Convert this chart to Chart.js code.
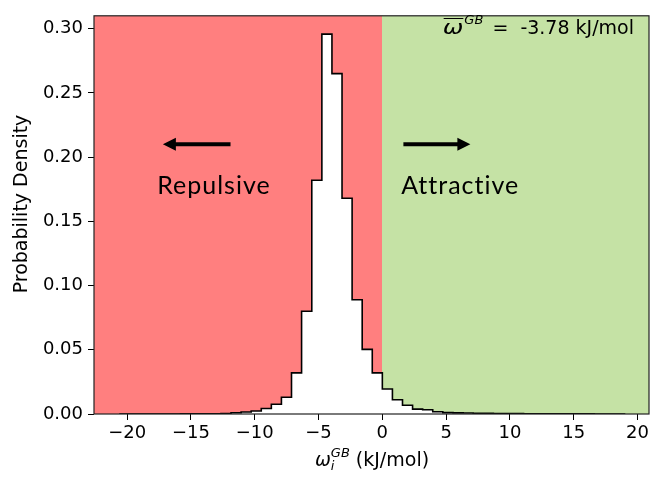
<!DOCTYPE html>
<html lang="en">
<head>
  <meta charset="UTF-8" />
  <title>GB interaction histogram</title>
  <script src="https://cdn.jsdelivr.net/npm/chart.js"></script>
  <style>
    html, body { margin: 0; padding: 0; background: #fff; }
    #wrap { width: 655px; height: 480px; }
  </style>
</head>
<body>
  <div id="wrap"><canvas id="histChart" width="655" height="480"></canvas></div>

  <script>
    // histogram bin edges (kJ/mol) and density per bin
    const binEdges = [
      -20.56, -19.77, -18.98, -18.19, -17.40, -16.61, -15.81, -15.02, -14.23, -13.44,
      -12.65, -11.86, -11.07, -10.28, -9.49, -8.70, -7.91, -7.12, -6.33, -5.53,
      -4.74, -3.95, -3.16, -2.37, -1.58, -0.79, 0.00, 0.79, 1.58, 2.37,
      3.16, 3.95, 4.74, 5.54, 6.33, 7.12, 7.91, 8.70, 9.49, 10.28,
      11.07, 11.86, 12.65, 13.44, 14.24, 15.03, 15.82, 16.61, 17.40, 18.19, 18.98
    ];
    const density = [
      0.00002, 0.00001, 0.00002, 0.00003, 0.00003, 0.00005, 0.00006, 0.00008, 0.0001, 0.00015,
      0.0003, 0.001, 0.0015, 0.0023, 0.0043, 0.0076, 0.0130, 0.032, 0.080, 0.182,
      0.2957, 0.265, 0.168, 0.089, 0.0503, 0.032, 0.0195, 0.0111, 0.0068, 0.0038,
      0.0033, 0.0017, 0.0011, 0.0009, 0.0008, 0.0006, 0.0005, 0.0004, 0.0003, 0.0003,
      0.0002, 0.0002, 0.00015, 0.00012, 0.0001, 0.00008, 0.00006, 0.00005, 0.00003, 0.00002
    ];
    const xTicks = [-20, -15, -10, -5, 0, 5, 10, 15, 20];
    const yTicks = [0, 0.05, 0.10, 0.15, 0.20, 0.25, 0.30];
    const meanOmega = -3.78;

    // step outline points built from the bins
    const stepPoints = [{ x: binEdges[0], y: 0 }];
    density.forEach((d, i) => stepPoints.push({ x: binEdges[i], y: d }));
    stepPoints.push({ x: binEdges[binEdges.length - 1], y: 0 });

    const FONT = "'DejaVu Sans'";
    const redBg = '#FF7F7F';
    const greenBg = '#C5E2A5';

    const regionPlugin = {
      id: 'regions',
      beforeDatasetsDraw(chart) {
        const { ctx, chartArea: a, scales: { x } } = chart;
        const x0 = Math.round(x.getPixelForValue(0));
        ctx.save();
        ctx.fillStyle = redBg;
        ctx.fillRect(a.left, a.top, x0 - a.left + 1, a.bottom - a.top);
        ctx.fillStyle = greenBg;
        ctx.fillRect(x0, a.top, a.right - x0, a.bottom - a.top);
        ctx.restore();
      }
    };

    function arrow(ctx, x1, y1, x2, y2) {
      const dir = Math.sign(x2 - x1);
      const head = 13;
      ctx.beginPath();
      ctx.lineWidth = 4;
      ctx.strokeStyle = '#000';
      ctx.moveTo(x1, y1);
      ctx.lineTo(x2 - dir * head * 0.8, y2);
      ctx.stroke();
      ctx.beginPath();
      ctx.fillStyle = '#000';
      ctx.moveTo(x2, y2);
      ctx.lineTo(x2 - dir * head, y2 - 6.5);
      ctx.lineTo(x2 - dir * head, y2 + 6.5);
      ctx.closePath();
      ctx.fill();
    }

    const annotPlugin = {
      id: 'annot',
      afterDraw(chart) {
        const { ctx, chartArea: a, scales: { x, y } } = chart;
        ctx.save();

        // frame
        ctx.strokeStyle = '#222';
        ctx.lineWidth = 1.2;
        ctx.strokeRect(a.left, a.top, a.right - a.left, a.bottom - a.top);

        // arrows + region labels
        const ay = y.getPixelForValue(0.21);
        arrow(ctx, x.getPixelForValue(-11.9), ay, x.getPixelForValue(-17.2), ay);
        arrow(ctx, x.getPixelForValue(1.65), ay, x.getPixelForValue(6.9), ay);
        ctx.save();
        ctx.font = "25px Lato";
        ctx.letterSpacing = '1px';
        ctx.fillStyle = '#000';
        ctx.textAlign = 'center';
        ctx.textBaseline = 'alphabetic';
        const ly = y.getPixelForValue(0.171);
        ctx.fillText('Repulsive', x.getPixelForValue(-13.2), ly);
        ctx.fillText('Attractive', x.getPixelForValue(6.1), ly);
        ctx.restore();

        // mean annotation, top right (axes-fraction placement)
        ctx.fillStyle = '#000';
        ctx.textAlign = 'left';
        ctx.textBaseline = 'alphabetic';
        const tb = 34;
        const omScale = 1.3;
        const omF = `italic 19px ${FONT}`, supF = `italic 13px ${FONT}`, mainF = `19px ${FONT}`;
        const rest = ` =  ${meanOmega.toFixed(2)} kJ/mol`;
        ctx.font = omF; const wOm = ctx.measureText('ω').width * omScale;
        ctx.font = supF; const wGB = ctx.measureText('GB').width;
        ctx.font = mainF; const wRest = ctx.measureText(rest).width;
        const tx = 634 - (wOm + 1 + wGB + 3 + wRest);
        ctx.save();
        ctx.translate(tx, tb);
        ctx.scale(omScale, 1);
        ctx.font = omF; ctx.fillText('ω', 0, 0);
        ctx.restore();
        ctx.lineWidth = 1;
        ctx.strokeStyle = '#000';
        ctx.beginPath(); ctx.moveTo(tx + 1, 18.5); ctx.lineTo(tx + wOm, 18.5); ctx.stroke();
        ctx.font = supF; ctx.fillText('GB', tx + wOm + 1, tb - 10);
        ctx.font = mainF; ctx.fillText(rest, tx + wOm + 1 + wGB + 3, tb);

        // x axis title: omega_i^GB (kJ/mol)
        const xf = `italic 19px ${FONT}`, sf = `italic 13px ${FONT}`, rf = `19px ${FONT}`;
        ctx.font = xf; const w1 = ctx.measureText('ω').width;
        ctx.font = sf; const w2 = Math.max(ctx.measureText('GB').width, ctx.measureText('i').width);
        ctx.font = rf; const w3 = ctx.measureText(' (kJ/mol)').width;
        const sx = 372 - (w1 + w2 + w3) / 2;
        const sb = 466;
        ctx.font = xf; ctx.fillText('ω', sx, sb);
        ctx.font = sf;
        ctx.fillText('GB', sx + w1, sb - 9);
        ctx.fillText('i', sx + w1, sb + 4);
        ctx.font = rf; ctx.fillText(' (kJ/mol)', sx + w1 + w2, sb);

        // y axis title
        ctx.translate(22, 204);
        ctx.rotate(-Math.PI / 2);
        ctx.textAlign = 'center';
        ctx.textBaseline = 'middle';
        ctx.font = `19px ${FONT}`;
        ctx.fillText('Probability Density', 0, 0);
        ctx.restore();
      }
    };

    const tickGrid = { display: true, drawOnChartArea: false, drawTicks: true, tickLength: 6, color: '#000', lineWidth: 1 };

    new Chart(document.getElementById('histChart').getContext('2d'), {
      type: 'line',
      data: {
        datasets: [{
          data: stepPoints,
          stepped: 'before',
          borderColor: '#000',
          borderWidth: 1.6,
          backgroundColor: '#fff',
          fill: 'origin',
          pointRadius: 0,
          tension: 0
        }]
      },
      options: {
        responsive: false,
        animation: false,
        layout: { padding: { left: 0, right: 6, top: 5, bottom: 0 } },
        plugins: { legend: { display: false }, tooltip: { enabled: false } },
        scales: {
          x: {
            type: 'linear',
            min: -22.6,
            max: 20.9,
            grid: tickGrid,
            border: { display: false },
            afterBuildTicks: s => { s.ticks = xTicks.map(v => ({ value: v })); },
            afterFit: s => { s.height = 66; },
            ticks: {
              padding: 3,
              color: '#000',
              font: { family: 'DejaVu Sans', size: 18 },
              maxRotation: 0,
              callback: v => String(v).replace('-', '\u2212')
            }
          },
          y: {
            min: 0,
            max: 0.31,
            grid: tickGrid,
            border: { display: false },
            afterBuildTicks: s => { s.ticks = yTicks.map(v => ({ value: v })); },
            afterFit: s => { s.width = 94; },
            ticks: {
              padding: 5,
              color: '#000',
              font: { family: 'DejaVu Sans', size: 18 },
              callback: v => Number(v).toFixed(2)
            }
          }
        }
      },
      plugins: [regionPlugin, annotPlugin]
    });
  </script>
</body>
</html>
